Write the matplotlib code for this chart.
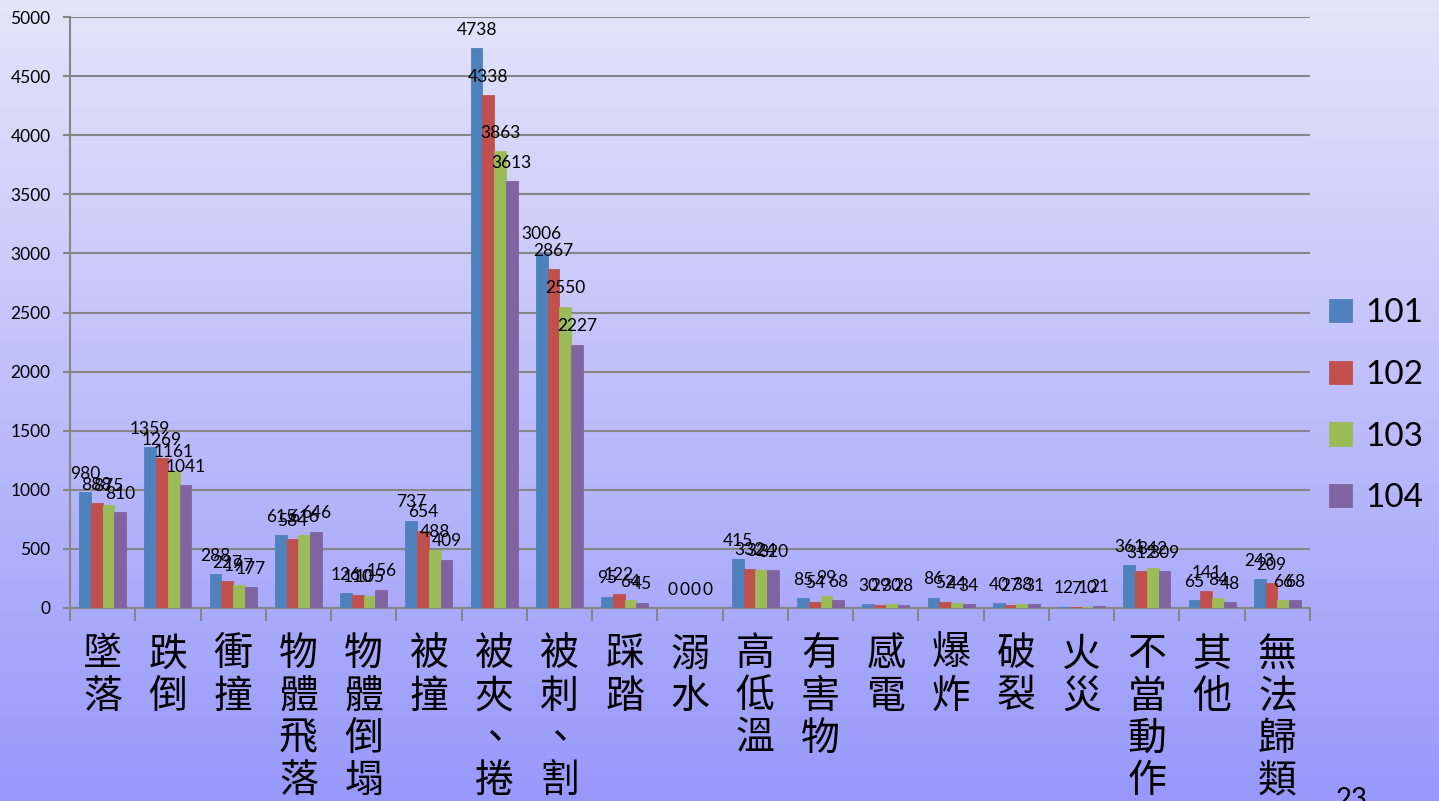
import matplotlib.pyplot as plt
import numpy as np

categories = ["墜落", "跌倒", "衝撞", "物體飛落", "物體倒塌", "被撞", "被夾、捲", "被刺、割",
              "踩踏", "溺水", "高低溫", "有害物", "感電", "爆炸", "破裂", "火災",
              "不當動作", "其他", "無法歸類"]
years = ["101", "102", "103", "104"]
y101 = [980, 1359, 288, 615, 126, 737, 4738, 3006, 95, 0, 415, 85, 30, 86, 40, 12, 361, 65, 243]
y102 = [888, 1269, 227, 584, 110, 654, 4338, 2867, 122, 0, 332, 54, 29, 52, 27, 7, 312, 141, 209]
y103 = [875, 1161, 197, 616, 105, 488, 3863, 2550, 64, 0, 324, 99, 30, 44, 38, 10, 342, 84, 66]
y104 = [810, 1041, 177, 646, 156, 409, 3613, 2227, 45, 0, 320, 68, 28, 34, 31, 21, 309, 48, 68]
series = [y101, y102, y103, y104]
colors = ["#4F81BD", "#C0504D", "#9BBB59", "#8064A2"]

CJK = ["Noto Sans CJK TC", "DejaVu Sans"]
NUM = ["Lato", "DejaVu Sans"]

fig = plt.figure(figsize=(14.39, 8.01), dpi=100)

# gradient background
bg = fig.add_axes([0, 0, 1, 1], zorder=-1)
top = np.array([228, 228, 251]) / 255
bottom = np.array([152, 152, 250]) / 255
t = np.linspace(0, 1, 256)[:, None]
grad = top[None, :] * (1 - t) + bottom[None, :] * t
bg.imshow(grad[:, None, :], aspect="auto", extent=[0, 1, 0, 1])
bg.axis("off")

ax = fig.add_axes([70 / 1439, 1 - 608 / 801, 1240 / 1439, 591 / 801])
ax.patch.set_alpha(0)

x = np.arange(len(categories))
w = 0.18
grid_c = "#868686"
for i, (vals, c) in enumerate(zip(series, colors)):
    xs = x + (i - 1.5) * w
    ax.bar(xs, vals, width=w, color=c, label=years[i], zorder=3,
           edgecolor=c, linewidth=0.6)
    for xi, v in zip(xs, vals):
        ax.annotate(str(v), (xi, v), xytext=(0, 7.5), textcoords="offset points",
                    ha="center", va="bottom", fontsize=12.5, family=NUM, zorder=4)

ax.set_xlim(-0.5, len(categories) - 0.5)
ax.set_ylim(0, 5000)
ax.set_yticks(np.arange(0, 5001, 500))
ax.yaxis.grid(True, color=grid_c, linewidth=1.5, zorder=0)
ax.set_axisbelow(True)
ax.tick_params(axis="y", length=5, width=1.5, color=grid_c, pad=9, labelsize=12.5)
for lab in ax.get_yticklabels():
    lab.set_family(NUM)

ax.set_xticks(x)
ax.set_xticklabels(["\n".join(c) for c in categories], family=CJK, fontsize=28,
                   va="top", linespacing=1.07)
ax.tick_params(axis="x", which="major", length=0, pad=19)
ax.set_xticks(np.arange(-0.5, len(categories), 1), minor=True)
ax.tick_params(axis="x", which="minor", length=9, width=1.5, color=grid_c)

for s in ["top", "right"]:
    ax.spines[s].set_visible(False)
for s in ["left", "bottom"]:
    ax.spines[s].set_color(grid_c)
    ax.spines[s].set_linewidth(1.5)

leg = ax.legend(loc="center left", bbox_to_anchor=(1.015, 0.342), frameon=False,
                handlelength=0.7, handleheight=0.7, handletextpad=0.4,
                borderaxespad=0, borderpad=0, labelspacing=0.95,
                prop={"family": NUM, "size": 24})

fig.text(1352 / 1439, -12 / 801, "23", fontsize=20, family=NUM, ha="center", va="bottom")

fig.savefig("out.png", dpi=100)
